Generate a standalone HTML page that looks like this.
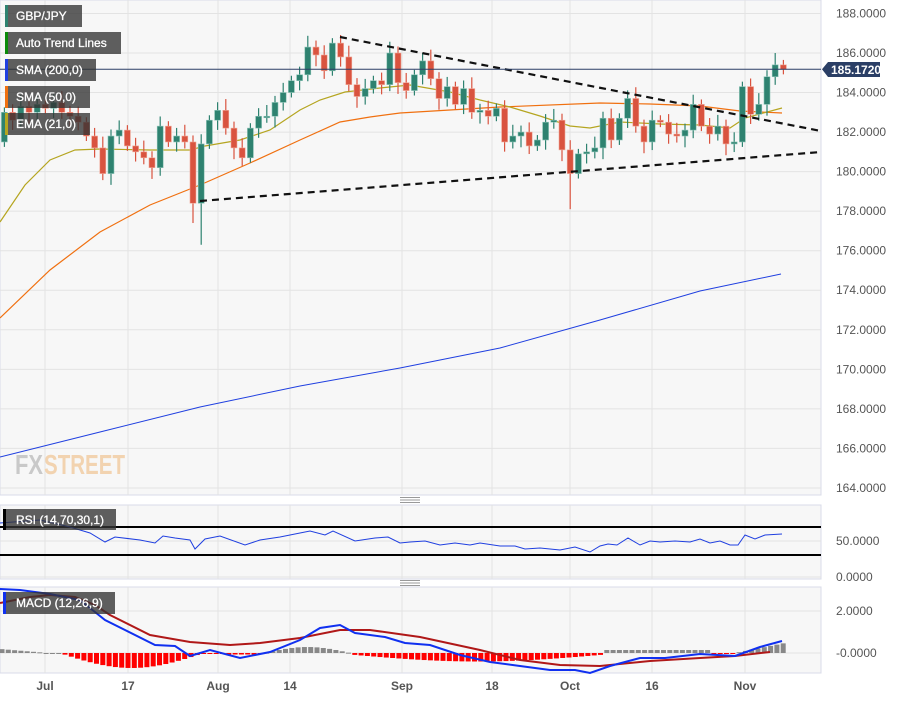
<!DOCTYPE html>
<html><head><meta charset="utf-8"><style>
body{margin:0;background:#fff;width:898px;height:697px;overflow:hidden;font-family:"Liberation Sans",Arial,sans-serif}
svg text{font-family:"Liberation Sans",Arial,sans-serif}
</style></head><body>
<svg id="s" width="898" height="697" xmlns="http://www.w3.org/2000/svg">
<rect x="0" y="0" width="821" height="495" fill="#f7f7f7" stroke="#d8dbe8"/>
<rect x="0" y="505" width="821" height="74" fill="#f7f7f7" stroke="#d8dbe8"/>
<rect x="0" y="587" width="821" height="86" fill="#f7f7f7" stroke="#d8dbe8"/>
<g id="grid" stroke="#e3e3e3" stroke-width="1"></g>
<g id="content"></g>
<g fill="#999"><rect x="400" y="497" width="20" height="1"/><rect x="400" y="499.5" width="20" height="1"/><rect x="400" y="502" width="20" height="1"/>
<rect x="400" y="580" width="20" height="1"/><rect x="400" y="582.5" width="20" height="1"/><rect x="400" y="585" width="20" height="1"/></g>
<text x="15" y="474" font-size="28" font-weight="bold" fill="#c9c9c9" textLength="28" lengthAdjust="spacingAndGlyphs">FX</text>
<text x="44" y="474" font-size="28" font-weight="bold" fill="#f2d3b0" textLength="81" lengthAdjust="spacingAndGlyphs">STREET</text>
<g id="labels" font-size="12" fill="#fff"></g>
<g font-size="12" fill="#555" id="axis"></g>
</svg>
<script>
const NS="http://www.w3.org/2000/svg";
function el(p,t,a,txt){const e=document.createElementNS(NS,t);for(const k in a)e.setAttribute(k,a[k]);if(txt!==undefined)e.textContent=txt;p.appendChild(e);return e;}
const S=document.getElementById('s'),G=document.getElementById('grid'),C=document.getElementById('content'),L=document.getElementById('labels'),A=document.getElementById('axis');
const Y=p=>53+(186-p)*19.77;
for(let p=164;p<=188;p+=2){el(G,'line',{x1:0,x2:821,y1:Y(p),y2:Y(p)});el(A,'text',{x:836,y:Y(p)+4},p.toFixed(4));}
const vx=[45,128,218,290,402,492,570,652,745],vl=['Jul','17','Aug','14','Sep','18','Oct','16','Nov'];
vx.forEach((x,i)=>{el(G,'line',{x1:x,x2:x,y1:0,y2:495});el(G,'line',{x1:x,x2:x,y1:505,y2:579});el(G,'line',{x1:x,x2:x,y1:587,y2:673});
el(A,'text',{x:x,y:690,'text-anchor':'middle','font-weight':'bold','font-size':'12'},vl[i]);});
[541,577].forEach((y,i)=>{el(G,'line',{x1:0,x2:821,y1:y,y2:y});el(A,'text',{x:836,y:y+4},i?'0.0000':'50.0000');});
[611,653].forEach((y,i)=>{el(G,'line',{x1:0,x2:821,y1:y,y2:y});el(A,'text',{x:836,y:y+4},i?'-0.0000':'2.0000');});
const pl=(pts,c,w)=>el(C,'polyline',{points:pts.map(p=>p.join(',')).join(' '),fill:'none',stroke:c,'stroke-width':w});
pl([[0,457],[100,432],[200,407],[300,386],[400,368],[500,348],[600,320],[700,291],[781,274]],'#1f3fe0',1);
pl([[0,318],[50,270],[100,232],[150,205],[200,185],[250,163],[300,140],[340,122],[370,117],[400,113],[500,107],[600,103],[650,104],[700,106],[740,111],[782,113]],'#f07010',1.2);
pl([[0,222],[25,185],[50,160],[75,150],[100,149],[150,150],[190,150],[205,146],[240,140],[270,130],[300,110],[320,100],[345,92],[380,88],[410,85],[450,92],[480,100],[510,107],[540,116],[570,126],[590,128],[620,122],[660,124],[700,125],[730,128],[745,118],[782,108]],'#b5a520',1.2);
const c=[183.0,182.6,183.3,183.0,183.4,183.2,183.5,183.0,182.8,182.5,181.8,181.2,179.9,181.8,182.1,181.3,181.0,180.7,180.2,182.3,181.5,181.8,181.5,178.4,181.4,182.6,183.1,182.2,181.2,180.7,182.2,182.8,182.8,183.5,184.0,184.6,184.9,186.3,185.9,185.1,186.5,185.8,184.4,183.8,184.2,184.6,184.4,186.0,184.5,184.1,184.9,185.6,184.7,183.7,184.3,183.4,184.2,183.0,183.1,182.8,183.2,181.5,181.8,182.0,181.3,181.6,182.5,182.6,181.1,179.9,180.9,181.0,181.2,182.7,181.6,182.7,183.7,182.3,181.5,182.6,182.5,181.9,181.8,182.1,183.4,182.3,181.9,182.3,181.4,181.5,184.3,182.9,183.4,184.8,185.4,185.17];
const sp={23:[null,177.4],24:[null,176.3],69:[null,178.1],94:[186.0,null]};
let prev=181.5;
c.forEach((cl,i)=>{const x=4.4+8.2*i,o=prev;prev=cl;const up=cl>=o;const col=up?'#2e8270':'#d9533f';
let h=Math.max(o,cl)+0.25+((i*7)%5)*0.08,l=Math.min(o,cl)-0.25-((i*3)%5)*0.08;
if(sp[i]){if(sp[i][0])h=sp[i][0];if(sp[i][1])l=sp[i][1];}
el(C,'line',{x1:x,x2:x,y1:Y(h),y2:Y(l),stroke:col,'stroke-width':1.2});
const t=Y(Math.max(o,cl)),b=Y(Math.min(o,cl));
el(C,'rect',{x:x-3,y:t,width:6,height:Math.max(1.5,b-t),fill:col,stroke:up?'#8cc3b6':'#f0a898','stroke-width':0.6});});
el(C,'line',{x1:340,y1:37,x2:821,y2:131,stroke:'#111','stroke-width':2.2,'stroke-dasharray':'7,5'});
el(C,'line',{x1:200,y1:201,x2:821,y2:152,stroke:'#111','stroke-width':2.2,'stroke-dasharray':'7,5'});
el(C,'line',{x1:0,x2:821,y1:69.3,y2:69.3,stroke:'#2b3f66','stroke-width':1});
el(C,'polygon',{points:'822,69.3 828,62 880,62 880,77 828,77',fill:'#2b3f66'});
el(C,'text',{x:831,y:74,fill:'#fff','font-size':12,'font-weight':'bold'},'185.1720');
el(C,'line',{x1:0,x2:821,y1:527,y2:527,stroke:'#000','stroke-width':2});
el(C,'line',{x1:0,x2:821,y1:555,y2:555,stroke:'#000','stroke-width':2});
pl([[0,523],[40,520],[70,527],[90,533],[105,542],[115,537],[140,540],[155,543],[163,536],[175,538],[190,540],[195,549],[205,539],[220,536],[245,545],[260,540],[280,537],[300,533],[310,531],[325,535],[333,531],[355,541],[375,538],[388,537],[400,543],[410,542],[425,541],[440,545],[455,543],[470,545],[480,543],[500,546],[515,546],[525,549],[540,548],[560,550],[575,547],[590,552],[600,546],[608,544],[617,545],[628,538],[640,545],[650,541],[660,542],[675,541],[690,542],[700,539],[710,543],[720,541],[730,545],[738,545],[745,535],[755,539],[765,535],[782,534]],'#1f3fe0',1);
const hist=[];for(let x=2;x<785;x+=6.3){let v=0;
if(x<45)v=4-x/12;else if(x<60)v=0;else if(x<225){const t=(x-60)/165;v=-15*Math.sin(Math.PI*Math.min(1,t*1.15));}
else if(x<265)v=-1.5;else if(x<350){v=6*Math.sin(Math.PI*(x-265)/85);}
else if(x<605){const t=(x-350)/255;v=-1.5-7*Math.sin(Math.PI*t);}
else if(x<710)v=3;else if(x<735)v=-1;else v=(x-735)/5;
hist.push([x,v]);}
hist.forEach(([x,v])=>{const col=v>=0?'#888':'#ff0000';el(C,'rect',{x:x-2.5,y:v>=0?653-v:653,width:5,height:Math.max(1,Math.abs(v)),fill:col});});
pl([[0,603],[30,597],[50,595],[75,597],[95,605],[110,615],[150,635],[190,642],[230,645],[260,643],[300,638],[340,630],[370,630],[420,637],[480,650],[520,660],[560,665],[600,666],[650,661],[700,658],[735,656],[770,652]],'#b01818',2);
pl([[0,589],[20,590],[50,594],[80,600],[105,620],[125,630],[155,645],[175,646],[190,656],[210,650],[240,658],[270,652],[300,640],[320,628],[340,625],[355,633],[385,637],[405,643],[430,645],[460,655],[490,662],[520,666],[550,670],[575,670],[590,673],[610,666],[640,658],[665,658],[700,654],[735,656],[760,647],[782,641]],'#1030f0',2);
const lb=[[5,'GBP/JPY',77,'#2e8270'],[32,'Auto Trend Lines',116,'#0a8a0a'],[59,'SMA (200,0)',91,'#1f3fe0'],[86,'SMA (50,0)',85,'#f07010'],[113,'EMA (21,0)',85,'#b5a520']];
lb.forEach(([y,t,w,c])=>{el(L,'rect',{x:5,y:y,width:w,height:22,fill:'#333','fill-opacity':0.78});el(L,'rect',{x:5,y:y,width:3,height:22,fill:c});el(L,'text',{x:16,y:y+15,'stroke':'#fff','stroke-width':0.3},t);});
el(L,'rect',{x:3,y:509,width:113,height:21,fill:'#333','fill-opacity':0.78});el(L,'rect',{x:3,y:509,width:3,height:21,fill:'#000'});el(L,'text',{x:16,y:524,'stroke':'#fff','stroke-width':0.3},'RSI (14,70,30,1)');
el(L,'rect',{x:3,y:592,width:112,height:22,fill:'#333','fill-opacity':0.78});el(L,'rect',{x:3,y:592,width:3,height:22,fill:'#1030f0'});el(L,'text',{x:16,y:607,'stroke':'#fff','stroke-width':0.3},'MACD (12,26,9)');
</script>
</body></html>
